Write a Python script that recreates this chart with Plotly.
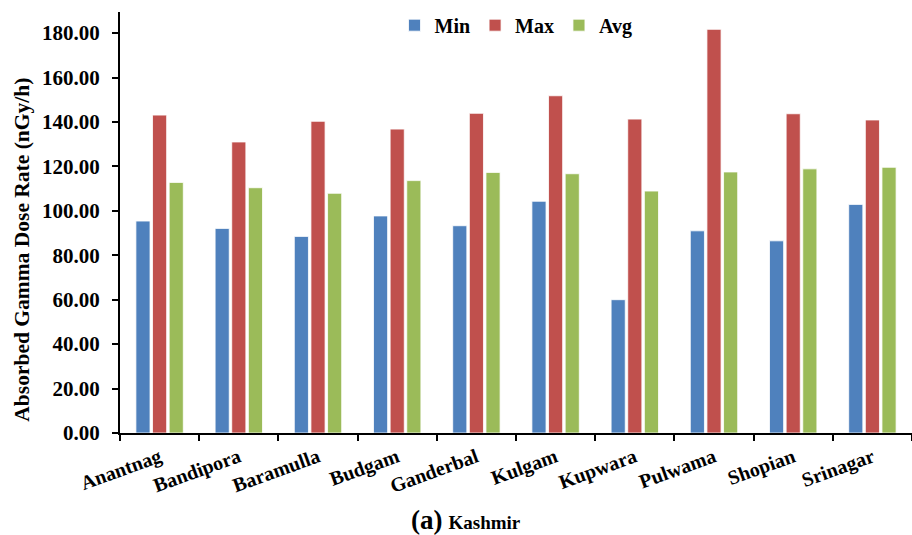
import plotly.graph_objects as go

districts = ["Anantnag", "Bandipora", "Baramulla", "Budgam", "Ganderbal",
             "Kulgam", "Kupwara", "Pulwama", "Shopian", "Srinagar"]
min_vals = [95.4, 92.1, 88.5, 97.7, 93.3, 104.3, 60.0, 91.0, 86.5, 102.9]
max_vals = [143.1, 131.0, 140.3, 136.8, 143.9, 151.8, 141.3, 181.7, 143.7, 140.9]
avg_vals = [112.8, 110.4, 107.9, 113.6, 117.3, 116.7, 108.9, 117.5, 118.9, 119.6]
y_ticks = [0, 20, 40, 60, 80, 100, 120, 140, 160, 180]

series = [("Min", min_vals, "#4F81BD"), ("Max", max_vals, "#C0504D"), ("Avg", avg_vals, "#9BBB59")]

font_fam = "Liberation Serif"
fig = go.Figure()
for name, vals, col in series:
    fig.add_trace(go.Bar(x=districts, y=vals, name=name,
                         marker=dict(color=col, line=dict(color="white", width=0.8))))

fig.update_layout(
    width=912, height=535,
    margin=dict(l=120, r=0, t=12, b=102, autoexpand=False),
    paper_bgcolor="white", plot_bgcolor="white",
    barmode="group", bargap=0.37, bargroupgap=0.15,
    font=dict(family=font_fam, color="black"),
    legend=dict(orientation="h", x=0.5, xanchor="center", y=1.015, yanchor="top",
                font=dict(family=font_fam, size=20, color="black", weight="bold"),
                itemwidth=30, traceorder="normal"),
    xaxis=dict(showline=True, linecolor="black", linewidth=2, ticks="outside",
               tickson="boundaries", ticklen=6, tickwidth=2, tickcolor="black",
               tickangle=-20, showgrid=False, ticklabelstandoff=3,
               tickfont=dict(family=font_fam, size=20, color="black", weight="bold")),
    yaxis=dict(range=[0, 189.5], showline=True, linecolor="black", linewidth=2,
               ticks="outside", ticklen=6, tickwidth=2, tickcolor="black",
               tickvals=y_ticks, tickformat=".2f", showgrid=False, zeroline=False,
               ticklabelstandoff=8,
               tickfont=dict(family=font_fam, size=21, color="black", weight="bold")),
    annotations=[
        dict(text="<span style='font-size:27px'>(a)</span>&nbsp;&nbsp;<span style='font-size:19px'>Kashmir</span>",
             x=0.437, xref="paper", y=-0.207, yref="paper", xanchor="center", yanchor="middle",
             showarrow=False, font=dict(family=font_fam, color="black", weight="bold")),
        dict(text="Absorbed Gamma Dose Rate (nGy/h)", textangle=-90,
             x=-0.124, xref="paper", y=0.435, yref="paper", xanchor="center", yanchor="middle",
             showarrow=False, font=dict(family=font_fam, size=21.5, color="black", weight="bold")),
    ],
)

fig.write_html("out.html", config={"displayModeBar": False},
               post_script="document.body.style.margin='0';document.body.style.padding='0';")
